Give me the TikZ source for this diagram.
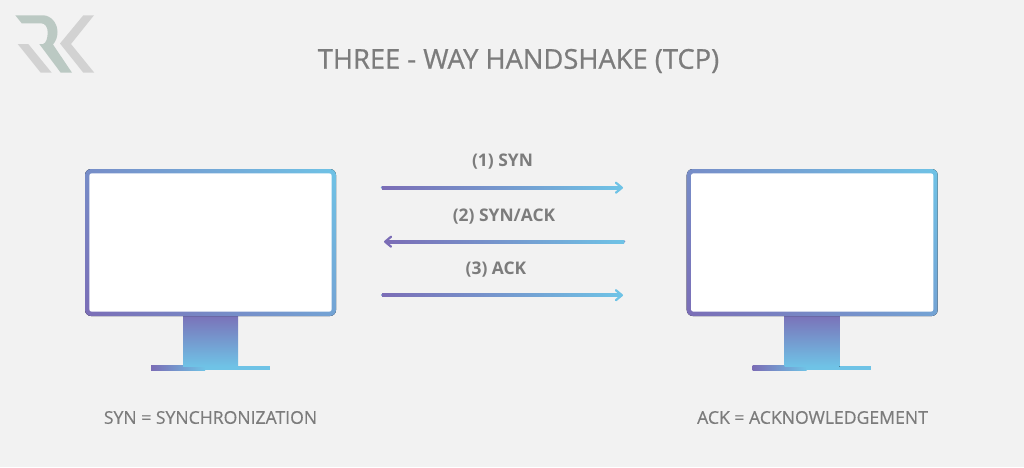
\documentclass[tikz,border=0pt]{standalone}
\usepackage{fontspec}
\setmainfont{Open Sans}
\newfontfamily\medfont[FakeBold=0.45]{Open Sans}
\newfontfamily\titlefont[FakeBold=0.7]{Open Sans}
\usetikzlibrary{arrows.meta,calc}
\definecolor{pagebg}{HTML}{F2F2F2}
\definecolor{vio}{HTML}{7B6DB6}
\definecolor{sky}{HTML}{6FC3E6}
\definecolor{midblue}{HTML}{759BCE}
\definecolor{txt}{HTML}{7C7C7C}
\definecolor{logoR}{HTML}{BBC9C3}
\definecolor{logoK}{HTML}{D2D2D2}
\tikzset{
  x=1pt,y=-1pt,
  standshade/.style={top color=vio!95!sky,bottom color=sky},
  screen/.style={fill=white,rounded corners=2.5pt},
  title/.style={font=\titlefont\fontsize{27.3}{32}\selectfont,text=txt,inner sep=0pt},
  label/.style={font=\fontsize{17.4}{21}\selectfont\bfseries,text=txt,inner sep=0pt},
  note/.style={font=\medfont\fontsize{17.6}{21}\selectfont,text=txt,inner sep=0pt},
  conn/.style={line width=2.5pt,midblue},
}
\newcommand{\monitor}[1]{%
  \pgfmathsetmacro{\mcx}{#1+210.5}%
  \begin{scope}[shift={(#1,0)}]
    \fill[left color=vio,right color=sky] (151,365.8) rectangle (205,370.3);
    \fill[sky] (204.5,365.8) rectangle (269.5,370.3);
    \fill[standshade] (183,315) rectangle (238,366.5);
  \end{scope}
  \begin{scope}
    \clip[rounded corners=6pt] (\mcx-125.5,169) rectangle (\mcx+125.5,316);
    \begin{scope}[transform canvas={rotate around={45:(\mcx,242.5)}}]
      \fill[left color=vio,right color=sky] (\mcx-142,62.5) rectangle (\mcx+142,422.5);
    \end{scope}
  \end{scope}
  \fill[screen] (\mcx-121.2,173.3) rectangle (\mcx+121.2,311.7);
}
\newcommand{\gradconn}[4]{% from, to, left colour, right colour
  \draw[conn,line cap=round,-{Straight Barb[length=6pt,width=10pt,line width=2.2pt,round,color=#4]}] (#1) -- (#2);
  \fill[left color=#3,right color=sky] ($(#1)+(0,-1.3)$) rectangle ($(#2)+(-3,1.3)$);
}
\begin{document}
\begin{tikzpicture}
\useasboundingbox (0,0) rectangle (1024,467);
\fill[pagebg] (0,0) rectangle (1024,467);
% logo
\fill[logoR] (15.3,15.3) -- (43,15.3) .. controls (50,15.3) and (57.5,22) .. (57.5,32) .. controls (57.5,37) and (56,41) .. (53,44.5) -- (72,72.7) -- (60.7,72.7) -- (39.3,44) -- (43,44) .. controls (46,43) and (47.7,39) .. (47.7,32) .. controls (47.7,27) and (45,23.3) .. (41,23.3) -- (21.7,23.3) -- cycle;
\fill[logoK] (17.7,44) -- (28.3,44) -- (51.7,72.7) -- (40.7,72.7) -- cycle;
\fill[logoK] (94,15.3) -- (83.3,15.3) -- (60,43.5) -- (83.3,72.7) -- (94.3,72.7) -- (71,44) -- cycle;
% title
\node[title] (ttl) at (518.5,61) {THREE - WAY HANDSHAKE (TCP)};
% monitors
\monitor{0}
\monitor{601.7}
% connectors
\coordinate (a1s) at (382,187.7);
\coordinate (a1e) at (623,187.7);
\coordinate (a2s) at (624,241.7);
\coordinate (a2e) at (384,241.7);
\coordinate (a3s) at (382,295.2);
\coordinate (a3e) at (623,295.2);
\gradconn{a1s}{a1e}{vio}{sky}
\draw[conn,line cap=round,-{Straight Barb[length=6pt,width=10pt,line width=2.2pt,round,color=vio]}] (a2s) -- (a2e);
\fill[left color=vio,right color=sky] ($(a2e)+(3,-1.3)$) rectangle ($(a2s)+(0,1.3)$);
\gradconn{a3s}{a3e}{vio}{sky}
% labels
\node[label] (l1) at (502.5,162) {(1) SYN};
\node[label] (l2) at (504,216.5) {(2) SYN/ACK};
\node[label] (l3) at (496,270) {(3) ACK};
\node[note] (n1) at (210.5,417.5) {SYN = SYNCHRONIZATION};
\node[note] (n2) at (812.5,417.5) {ACK = ACKNOWLEDGEMENT};
\end{tikzpicture}
\end{document}
